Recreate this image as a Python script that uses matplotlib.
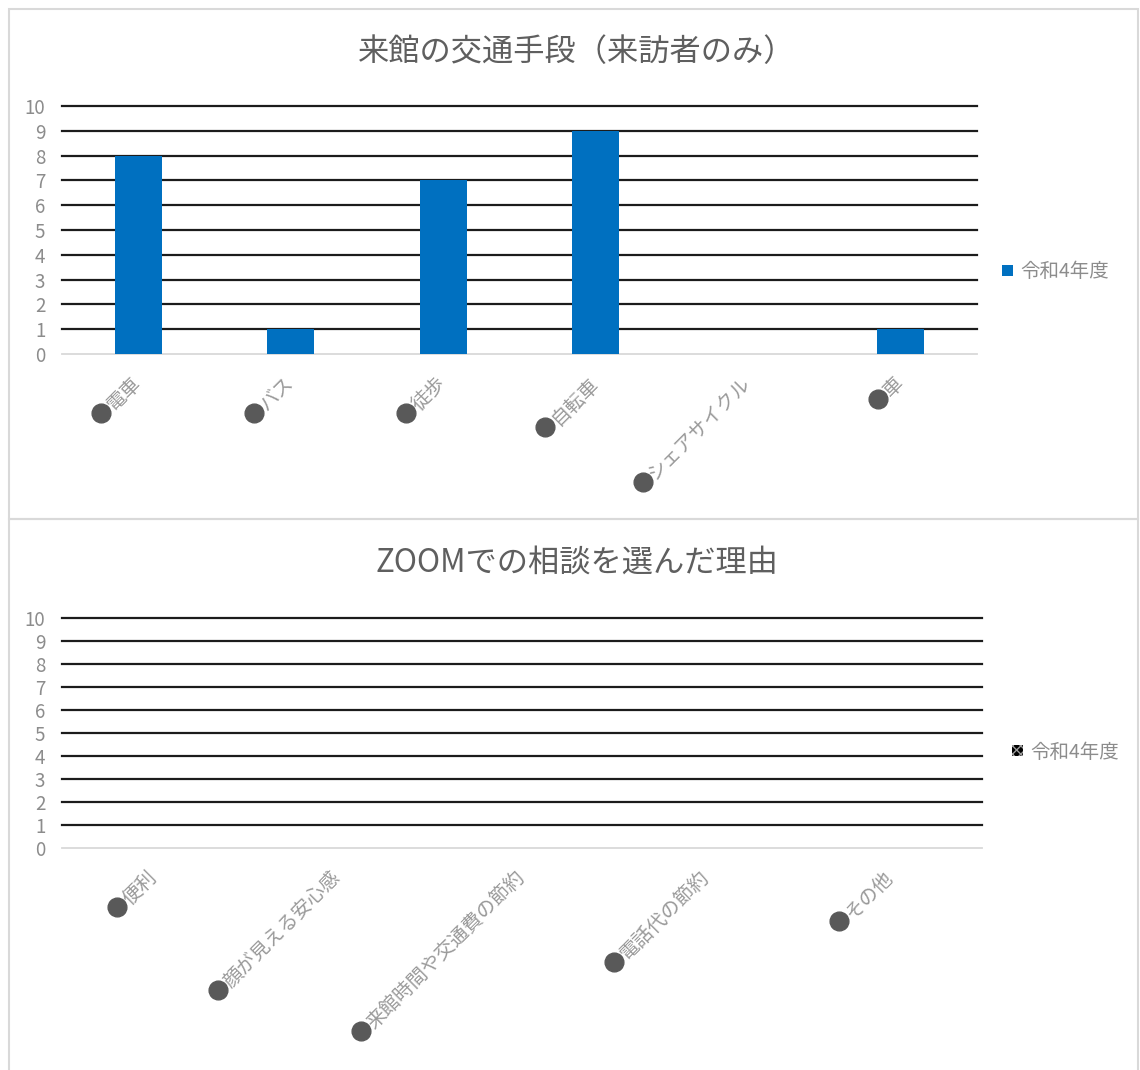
import numpy as np
import matplotlib
matplotlib.use("Agg")
import matplotlib.pyplot as plt
from matplotlib.lines import Line2D
from matplotlib.patches import Rectangle, Patch
from matplotlib.font_manager import FontProperties

plt.rcParams["font.family"] = ["Noto Sans CJK JP", "DejaVu Sans"]

# ---- data ----
transport_cats = ["電車", "バス", "徒歩", "自転車", "シェアサイクル", "車"]
transport_vals = [8, 1, 7, 9, 0, 1]

zoom_cats = ["便利", "顔が見える安心感", "来館時間や交通費の節約", "電話代の節約", "その他"]
zoom_vals = [0, 0, 0, 0, 0]

series_name = "令和4年度"
title_top = "来館の交通手段（来訪者のみ）"
title_bottom = "ZOOMでの相談を選んだ理由"
yticks = list(range(0, 11))

# ---- style ----
W, H, DPI = 1140, 1070, 100
BAR_BLUE = "#0070C0"
GRID = "#1c1c1c"
TEXT_GREY = "#8c8c8c"
LABEL_GREY = "#9a9a9a"
TITLE_GREY = "#5f5f5f"
BULLET = "#595959"
FRAME = "#d9d9d9"
LABEL_FS = 14

fig = plt.figure(figsize=(W / DPI, H / DPI), dpi=DPI)


def fx(px):
    return px / W


def fy(py):
    return 1 - py / H


# chart frames
fig.add_artist(Rectangle((fx(9), fy(519)), fx(1129), (519 - 9) / H,
                         transform=fig.transFigure, fill=False,
                         edgecolor=FRAME, lw=1.5))
fig.add_artist(Rectangle((fx(9), fy(1075)), fx(1129), (1075 - 519) / H,
                         transform=fig.transFigure, fill=False,
                         edgecolor=FRAME, lw=1.5))


def make_axes(left, right, top, bottom):
    return fig.add_axes([fx(left), fy(bottom), (right - left) / W, (bottom - top) / H])


def style_axes(ax, cats):
    ax.set_ylim(0, 10)
    ax.set_xlim(-0.5, len(cats) - 0.5)
    ax.set_yticks(yticks)
    ax.set_xticks(np.arange(len(cats)))
    ax.set_xticklabels(cats, rotation=45, ha="right", va="center",
                       rotation_mode="anchor", color=LABEL_GREY, fontsize=LABEL_FS)
    ax.tick_params(axis="x", length=0, pad=19)
    ax.tick_params(axis="y", length=0, pad=12, labelcolor=TEXT_GREY, labelsize=13.5)
    for s in ax.spines.values():
        s.set_visible(False)
    ax.set_axisbelow(True)
    ax.grid(axis="y", color=GRID, lw=1.6)
    gl = ax.get_ygridlines()
    for g in gl:
        g.set_clip_on(False)
    gl[0].set_color(FRAME)
    gl[0].set_linewidth(1.3)


def add_legend(handle, x_px, y_px):
    fig.legend(handles=[handle], loc="center left",
               bbox_to_anchor=(fx(x_px), fy(y_px)),
               bbox_transform=fig.transFigure, frameon=False,
               handlelength=0.55, handleheight=0.55, handletextpad=0.4,
               borderpad=0, borderaxespad=0, fontsize=14, labelcolor=TEXT_GREY)


# ---- top chart ----
ax1 = make_axes(62, 977, 106, 354)
x1 = np.arange(len(transport_cats))
ax1.bar(x1, transport_vals, width=0.31, color=BAR_BLUE, label=series_name, zorder=3)
style_axes(ax1, transport_cats)
fig.text(fx(577), fy(52), title_top, ha="center", va="center",
         fontsize=22.5, color=TITLE_GREY)
add_legend(Patch(facecolor=BAR_BLUE, label=series_name), 1002, 272)

# ---- bottom chart ----
ax2 = make_axes(62, 982, 618, 848)
x2 = np.arange(len(zoom_cats))
ax2.bar(x2, zoom_vals, width=0.31, color="black", label=series_name, zorder=3)
style_axes(ax2, zoom_cats)
fig.text(fx(577), fy(563), title_bottom, ha="center", va="center",
         fontsize=22.5, color=TITLE_GREY)
add_legend(Patch(facecolor="black", edgecolor="#9a9a9a", hatch="xxxx",
                 lw=0, label=series_name), 1012, 752)

# ---- bullets in front of each category label ----
fig.canvas.draw()
renderer = fig.canvas.get_renderer()
to_fig = fig.transFigure.inverted()
d = np.array([np.cos(np.radians(45)), np.sin(np.radians(45))])
perp = np.array([-d[1], d[0]])
for ax in (ax1, ax2):
    for lab in ax.get_xticklabels():
        anchor = lab.get_transform().transform(lab.get_position())
        fp = FontProperties(family=plt.rcParams["font.family"], size=lab.get_fontsize())
        w, h, _ = renderer.get_text_width_height_descent(lab.get_text(), fp, ismath=False)
        start = anchor - w * d
        centre = start - 10 * d + 3 * perp
        cx, cy = to_fig.transform(centre)
        fig.add_artist(Line2D([cx], [cy], marker="o", ms=13.5, color=BULLET,
                              transform=fig.transFigure, lw=0))

fig.savefig("out.png", dpi=DPI)
